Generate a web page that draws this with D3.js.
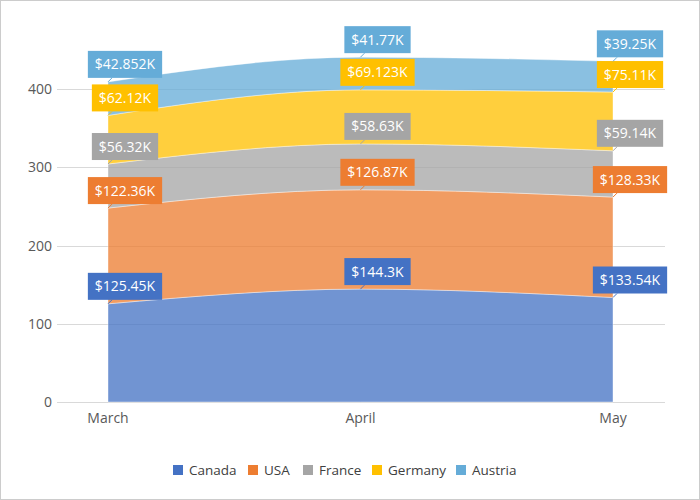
<!DOCTYPE html>
<head>
<style type="text/css">
    body {
      font-family: "Segoe UI", "Open Sans", sans-serif;
      margin: 0;
      background: #fff;
    }
</style>
</head>
<script src="https://d3js.org/d3.v7.min.js"></script>
<body>
    <svg width="700" height="500"></svg>
    <script>
        var months = ["March", "April", "May"];
        var seriesNames = ["Canada", "USA", "France", "Germany", "Austria"];
        var canada = [125.45, 144.3, 133.54];
        var usa = [122.36, 126.87, 128.33];
        var france = [56.32, 58.63, 59.14];
        var germany = [62.12, 69.123, 75.11];
        var austria = [42.852, 41.77, 39.25];
        var yTicks = [0, 100, 200, 300, 400];

        var colors = ["#4472c4", "#ed7d31", "#a5a5a5", "#ffc000", "#65acd8"];
        var seriesValues = [canada, usa, france, germany, austria];

        var rows = months.map(function(m, i) {
            var r = {month: m};
            seriesNames.forEach(function(s, j) { r[s] = seriesValues[j][i]; });
            return r;
        });

        var svg = d3.select("svg");

        svg.append("rect")
            .attr("x", 0.5).attr("y", 0.5)
            .attr("width", 699).attr("height", 499)
            .style("fill", "none")
            .style("stroke", "#cccccc");

        var x = d3.scalePoint().domain(months).range([108, 613]);
        var y = d3.scaleLinear().domain([0, 400]).range([402, 89]);

        // grid
        svg.append("g").selectAll("line")
            .data(yTicks)
            .enter().append("line")
            .attr("x1", 57).attr("x2", 665)
            .attr("y1", function(d) { return Math.round(y(d)) + 0.5; })
            .attr("y2", function(d) { return Math.round(y(d)) + 0.5; })
            .style("stroke", "#d9d9d9");

        svg.append("g").selectAll("text")
            .data(yTicks)
            .enter().append("text")
            .attr("x", 52)
            .attr("y", function(d) { return y(d) + 5; })
            .attr("text-anchor", "end")
            .style("font-size", "14px")
            .style("fill", "#595959")
            .text(function(d) { return d; });

        svg.append("g").selectAll("text")
            .data(months)
            .enter().append("text")
            .attr("x", function(d) { return x(d); })
            .attr("y", 423)
            .attr("text-anchor", "middle")
            .style("font-size", "14px")
            .style("fill", "#595959")
            .text(function(d) { return d; });

        var stack = d3.stack().keys(seriesNames);
        var layers = stack(rows);

        var area = d3.area()
            .curve(d3.curveMonotoneX)
            .x(function(d) { return x(d.data.month); })
            .y0(function(d) { return y(d[0]); })
            .y1(function(d) { return y(d[1]); });

        svg.append("g").selectAll("path")
            .data(layers)
            .enter().append("path")
            .attr("d", area)
            .style("fill", function(d, i) { return colors[i]; })
            .style("fill-opacity", 0.76)
            .style("stroke", "#fff")
            .style("stroke-opacity", 0.4)
            .style("stroke-width", 1);

        // data labels
        var lbl = svg.append("g");
        layers.forEach(function(layer, i) {
            layer.forEach(function(d, k) {
                var px = x(d.data.month), py = y(d[1]);
                var g = lbl.append("g");
                g.append("line")
                    .attr("x1", px).attr("y1", py)
                    .attr("x2", px + 4).attr("y2", py - 4)
                    .style("stroke", colors[i]);
                var t = g.append("text")
                    .attr("x", px + 17)
                    .attr("y", py - 12.5)
                    .attr("text-anchor", "middle")
                    .style("font-size", "14px")
                    .style("fill", "#fff")
                    .text("$" + seriesValues[i][k] + "K");
                var w = t.node().getComputedTextLength() + 14;
                g.insert("rect", "text")
                    .attr("x", px + 17 - w / 2)
                    .attr("y", py - 31)
                    .attr("width", w)
                    .attr("height", 27)
                    .style("fill", colors[i]);
            });
        });

        // legend
        var legendX = [173, 248, 303, 372, 456];
        var leg = svg.append("g").selectAll("g")
            .data(seriesNames)
            .enter().append("g")
            .attr("transform", function(d, i) { return "translate(" + legendX[i] + ",465)"; });
        leg.append("rect")
            .attr("width", 10).attr("height", 10)
            .style("fill", function(d, i) { return colors[i]; });
        leg.append("text")
            .attr("x", 16).attr("y", 10)
            .style("font-size", "13.5px")
            .style("fill", "#404040")
            .text(function(d) { return d; });
    </script>
</body>
